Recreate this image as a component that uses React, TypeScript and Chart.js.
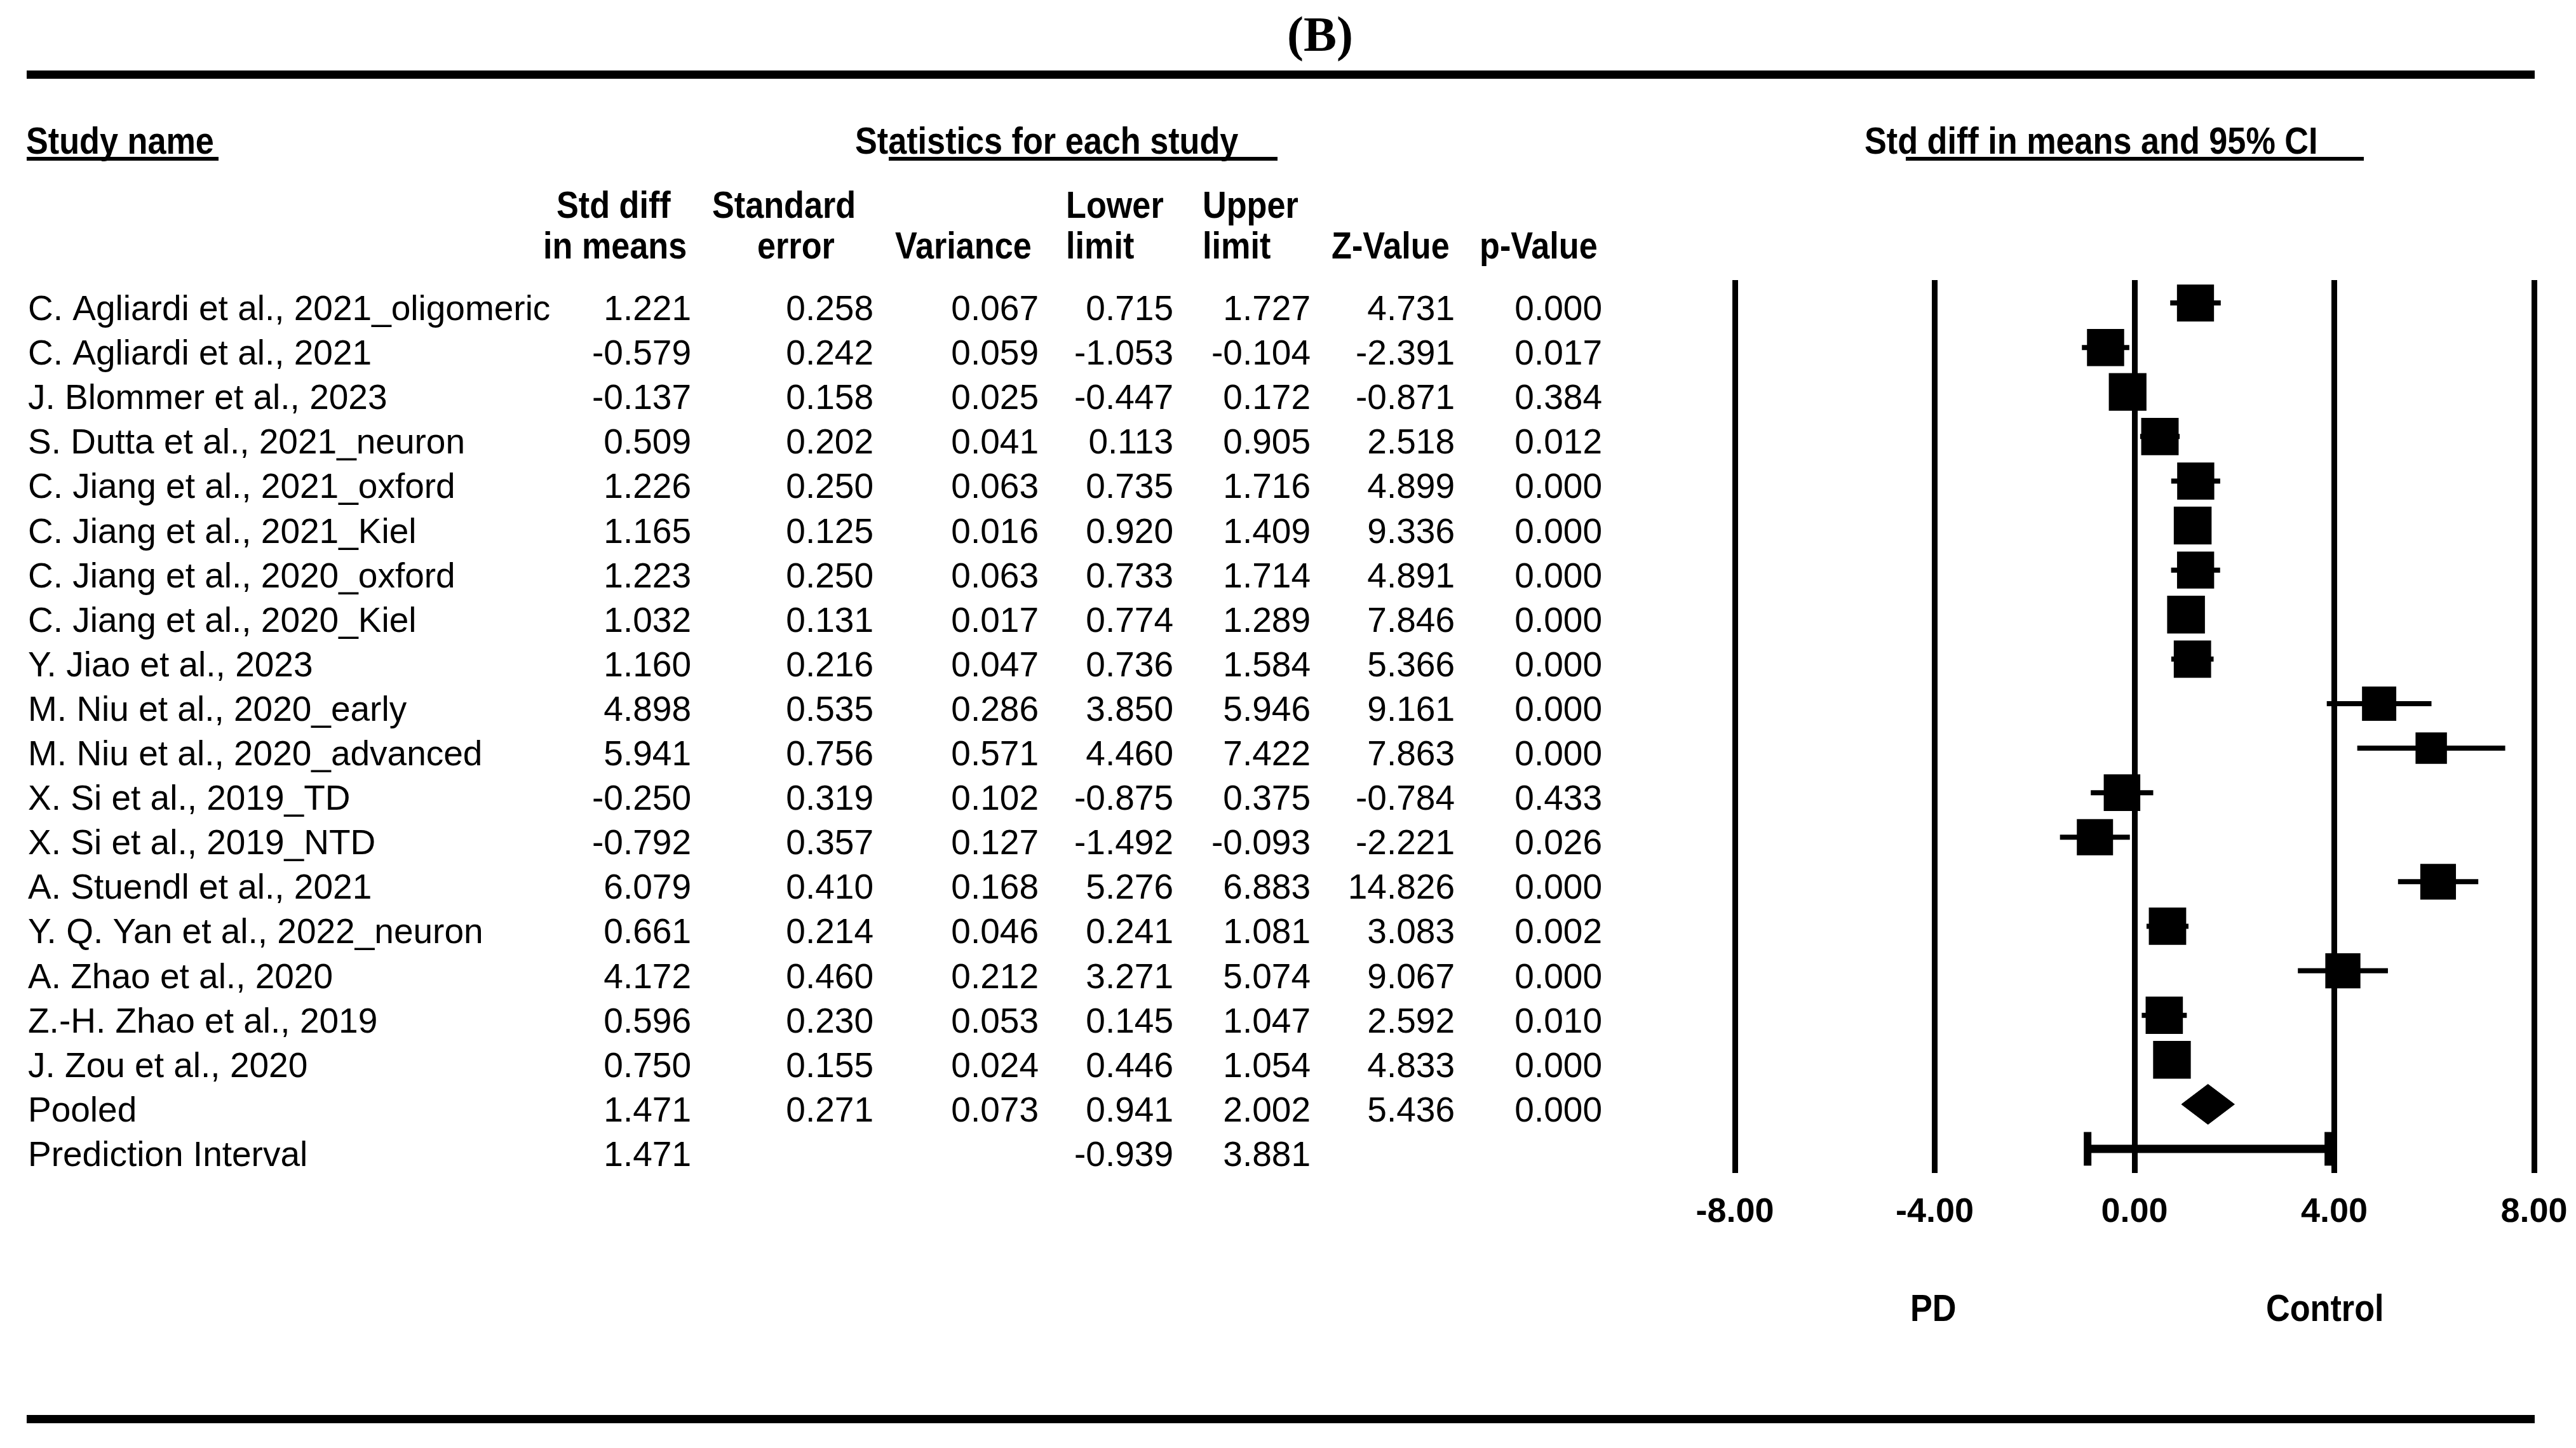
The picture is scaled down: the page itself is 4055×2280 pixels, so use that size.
import React, { useEffect, useRef } from "react";
import { Chart, registerables } from "chart.js";

Chart.register(...registerables);

// ---------------- DATA ----------------
const studyNames = [
  "C. Agliardi et al., 2021_oligomeric",
  "C. Agliardi et al., 2021",
  "J. Blommer et al., 2023",
  "S. Dutta et al., 2021_neuron",
  "C. Jiang et al., 2021_oxford",
  "C. Jiang et al., 2021_Kiel",
  "C. Jiang et al., 2020_oxford",
  "C. Jiang et al., 2020_Kiel",
  "Y. Jiao et al., 2023",
  "M. Niu et al., 2020_early",
  "M. Niu et al., 2020_advanced",
  "X. Si et al., 2019_TD",
  "X. Si et al., 2019_NTD",
  "A. Stuendl et al., 2021",
  "Y. Q. Yan et al., 2022_neuron",
  "A. Zhao et al., 2020",
  "Z.-H. Zhao et al., 2019",
  "J. Zou et al., 2020",
];
const stdDiff = [1.221, -0.579, -0.137, 0.509, 1.226, 1.165, 1.223, 1.032, 1.16, 4.898, 5.941, -0.25, -0.792, 6.079, 0.661, 4.172, 0.596, 0.75];
const stdError = [0.258, 0.242, 0.158, 0.202, 0.25, 0.125, 0.25, 0.131, 0.216, 0.535, 0.756, 0.319, 0.357, 0.41, 0.214, 0.46, 0.23, 0.155];
const variances = [0.067, 0.059, 0.025, 0.041, 0.063, 0.016, 0.063, 0.017, 0.047, 0.286, 0.571, 0.102, 0.127, 0.168, 0.046, 0.212, 0.053, 0.024];
const lowerLimit = [0.715, -1.053, -0.447, 0.113, 0.735, 0.92, 0.733, 0.774, 0.736, 3.85, 4.46, -0.875, -1.492, 5.276, 0.241, 3.271, 0.145, 0.446];
const upperLimit = [1.727, -0.104, 0.172, 0.905, 1.716, 1.409, 1.714, 1.289, 1.584, 5.946, 7.422, 0.375, -0.093, 6.883, 1.081, 5.074, 1.047, 1.054];
const zValues = [4.731, -2.391, -0.871, 2.518, 4.899, 9.336, 4.891, 7.846, 5.366, 9.161, 7.863, -0.784, -2.221, 14.826, 3.083, 9.067, 2.592, 4.833];
const pValues = [0.0, 0.017, 0.384, 0.012, 0.0, 0.0, 0.0, 0.0, 0.0, 0.0, 0.0, 0.433, 0.026, 0.0, 0.002, 0.0, 0.01, 0.0];

// Pooled: std diff, std error, variance, lower, upper, z, p
const pooledStats = [1.471, 0.271, 0.073, 0.941, 2.002, 5.436, 0.0];
// Prediction interval: std diff, lower, upper
const predictionInterval = [1.471, -0.939, 3.881];

const xTickValues = [-8, -4, 0, 4, 8];
const sideLabels = ["PD", "Control"];

// ---------------- LAYOUT ----------------
const W = 4039;
const H = 2260;
const OFF = 8; // body margin
const P = (v: number) => v - OFF;

const CHART_TOP = P(441);
const CHART_BOTTOM = P(1847);
const CHART_LEFT = P(2731);
const CHART_RIGHT = P(3989);
const X_AXIS_H = 100;

const FONT = "'Liberation Sans', Arial, Helvetica, sans-serif";

const Y_MIN = -0.514;
const Y_MAX = 19.543;

// marker size from random-effects weights (tau^2 from the prediction interval)
const T_CRIT = 2.12;
const tau2 =
  Math.pow((predictionInterval[2] - predictionInterval[0]) / T_CRIT, 2) -
  pooledStats[1] * pooledStats[1];
const weights = variances.map((v) => 1 / (v + Math.max(tau2, 0)));
const wMax = Math.max(...weights);
const MAX_SIDE = 59.5;
const squareSide = weights.map((w) => MAX_SIDE * Math.sqrt(w / wMax));

const colRight = [1088, 1375, 1635, 1847, 2063, 2290, 2522].map(P);

const fmt = (v: number) => v.toFixed(3);

function drawCondensed(
  ctx: CanvasRenderingContext2D,
  text: string,
  x: number,
  y: number,
  font: string,
  sx: number,
  align: CanvasTextAlign = "left"
) {
  ctx.save();
  ctx.font = font;
  ctx.textAlign = align;
  ctx.textBaseline = "alphabetic";
  ctx.translate(x, y);
  ctx.scale(sx, 1);
  ctx.fillText(text, 0, 0);
  ctx.restore();
}

const textPlugin = {
  id: "forestText",
  afterDraw(chart: any) {
    const ctx: CanvasRenderingContext2D = chart.ctx;
    const yScale = chart.scales.y;
    ctx.save();
    ctx.fillStyle = "#000";

    // horizontal rules
    ctx.fillRect(P(42), P(111), 3990 - 42, 13);
    ctx.fillRect(P(42), P(2228), 3990 - 42, 13);

    // title
    ctx.font = `bold 78px 'Liberation Serif', 'Times New Roman', serif`;
    ctx.textAlign = "center";
    ctx.textBaseline = "alphabetic";
    ctx.fillText("(B)", P(2078), P(80));

    const BOLD = `bold 60px ${FONT}`;
    const SX = 0.87;

    // section headers with underlines
    drawCondensed(ctx, "Study name", P(41), P(242), BOLD, SX);
    ctx.fillRect(P(42), P(247), 344 - 42, 6);
    drawCondensed(ctx, "Statistics for each study", P(1346), P(242), BOLD, SX);
    ctx.fillRect(P(1399), P(247), 2011 - 1399, 6);
    drawCondensed(ctx, "Std diff in means and 95% CI", P(2935), P(242), BOLD, SX);
    ctx.fillRect(P(3000), P(247), 3721 - 3000, 6);

    // column headers
    const hdr: [string, number, number][] = [
      ["Std diff", 876, 343],
      ["in means", 855, 407],
      ["Standard", 1121, 343],
      ["error", 1192, 407],
      ["Variance", 1409, 407],
      ["Lower", 1678, 343],
      ["limit", 1678, 407],
      ["Upper", 1893, 343],
      ["limit", 1893, 407],
      ["Z-Value", 2096, 407],
      ["p-Value", 2329, 407],
    ];
    hdr.forEach(([t, x, y]) => drawCondensed(ctx, t, P(x), P(y), BOLD, SX));

    // rows
    ctx.font = `55px ${FONT}`;
    ctx.textBaseline = "alphabetic";
    const rowBase = (i: number) => yScale.getPixelForValue(i) + 27;
    studyNames.forEach((name, i) => {
      const y = rowBase(i);
      ctx.textAlign = "left";
      ctx.fillText(name, P(44), y);
      ctx.textAlign = "right";
      const vals = [stdDiff[i], stdError[i], variances[i], lowerLimit[i], upperLimit[i], zValues[i], pValues[i]];
      vals.forEach((v, c) => ctx.fillText(fmt(v), colRight[c], y));
    });
    // pooled
    let y = rowBase(studyNames.length);
    ctx.textAlign = "left";
    ctx.fillText("Pooled", P(44), y);
    ctx.textAlign = "right";
    pooledStats.forEach((v, c) => ctx.fillText(fmt(v), colRight[c], y));
    // prediction interval
    y = rowBase(studyNames.length + 1);
    ctx.textAlign = "left";
    ctx.fillText("Prediction Interval", P(44), y);
    ctx.textAlign = "right";
    ctx.fillText(fmt(predictionInterval[0]), colRight[0], y);
    ctx.fillText(fmt(predictionInterval[1]), colRight[3], y);
    ctx.fillText(fmt(predictionInterval[2]), colRight[4], y);

    // side labels
    drawCondensed(ctx, sideLabels[0], P(3007), P(2080), BOLD, SX);
    drawCondensed(ctx, sideLabels[1], P(3567), P(2080), BOLD, SX);

    ctx.restore();
  },
};

export default function App() {
  const ref = useRef<HTMLCanvasElement>(null);

  useEffect(() => {
    if (!ref.current) return;
    Chart.defaults.font.family = FONT;

    const whiskers = stdDiff.map((_, i) => ({
      type: "line" as const,
      data: [
        { x: lowerLimit[i], y: i },
        { x: upperLimit[i], y: i },
      ],
      borderColor: "#000",
      borderWidth: 8,
      borderCapStyle: "butt" as const,
      pointRadius: 0,
      fill: false,
      tension: 0,
      order: 3,
    }));

    const squares = {
      type: "scatter" as const,
      data: stdDiff.map((v, i) => ({ x: v, y: i })),
      pointStyle: "rect" as const,
      pointRadius: (c: any) => squareSide[c.dataIndex] / Math.SQRT2,
      pointBackgroundColor: "#000",
      backgroundColor: "#000",
      pointBorderWidth: 0,
      borderWidth: 0,
      order: 2,
    };

    const pr = studyNames.length;
    const diamond = {
      type: "line" as const,
      data: [
        { x: pooledStats[3], y: pr },
        { x: pooledStats[0], y: pr - 0.45 },
        { x: pooledStats[4], y: pr },
        { x: pooledStats[0], y: pr + 0.45 },
        { x: pooledStats[3], y: pr },
      ],
      borderColor: "#000",
      borderWidth: 1,
      backgroundColor: "#000",
      fill: "shape",
      pointRadius: 0,
      tension: 0,
      order: 1,
    };

    const pi = {
      type: "line" as const,
      data: [
        { x: predictionInterval[1], y: pr + 1 },
        { x: predictionInterval[2], y: pr + 1 },
      ],
      borderColor: "#000",
      borderWidth: 13,
      borderCapStyle: "butt" as const,
      pointStyle: "line" as const,
      pointRotation: 90,
      pointRadius: 26.5,
      pointBorderWidth: 12,
      pointBorderColor: "#000",
      pointBackgroundColor: "#000",
      fill: false,
      tension: 0,
      order: 1,
    };

    const chart = new Chart(ref.current, {
      type: "scatter",
      data: { datasets: [...whiskers, squares, diamond, pi] as any },
      options: {
        responsive: false,
        animation: false,
        devicePixelRatio: 1,
        layout: {
          padding: {
            left: CHART_LEFT,
            right: W - CHART_RIGHT,
            top: CHART_TOP,
            bottom: H - CHART_BOTTOM - X_AXIS_H,
          },
        },
        plugins: {
          legend: { display: false },
          tooltip: { enabled: false },
        },
        scales: {
          x: {
            type: "linear",
            position: "bottom",
            min: xTickValues[0],
            max: xTickValues[xTickValues.length - 1],
            afterBuildTicks: (s: any) => {
              s.ticks = xTickValues.map((v) => ({ value: v }));
            },
            afterFit: (s: any) => {
              s.height = X_AXIS_H;
              s.paddingLeft = 0;
              s.paddingRight = 0;
            },
            grid: { color: "#000", lineWidth: 9, drawTicks: false },
            border: { display: false },
            ticks: {
              color: "#000",
              padding: 30,
              font: { family: FONT, weight: "bold", size: 54 },
              callback: (v: any) => Number(v).toFixed(2),
            },
          },
          y: {
            type: "linear",
            display: false,
            reverse: true,
            min: Y_MIN,
            max: Y_MAX,
            afterFit: (s: any) => {
              s.width = 0;
              s.paddingTop = 0;
              s.paddingBottom = 0;
            },
          },
        },
      } as any,
      plugins: [textPlugin],
    });

    return () => chart.destroy();
  }, []);

  return (
    <canvas
      ref={ref}
      width={W}
      height={H}
      style={{ display: "block", width: W, height: H }}
    />
  );
}
